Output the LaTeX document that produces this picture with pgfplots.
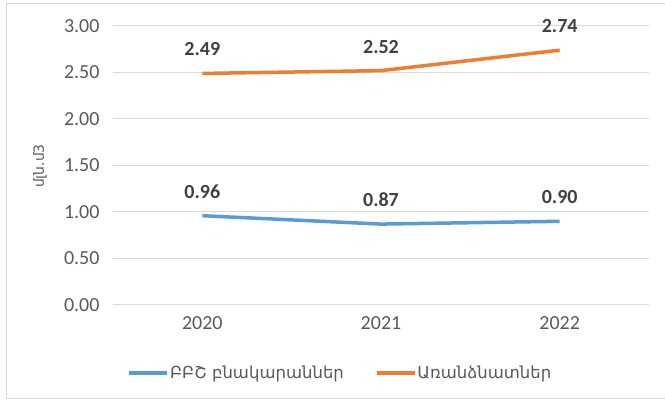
\documentclass[border=0pt]{standalone}
\usepackage{pgfplots}
\pgfplotsset{compat=1.18}
\usepackage{fontspec}
\setmainfont{Carlito}
\newfontfamily\armfont{DejaVu Sans}
\definecolor{cblue}{HTML}{5B9BD5}
\definecolor{corange}{HTML}{ED7D31}
\definecolor{gridc}{HTML}{D9D9D9}
\definecolor{tickc}{HTML}{595959}
\definecolor{labc}{HTML}{404040}
\begin{document}
\begin{tikzpicture}[x=1pt,y=1pt]
\useasboundingbox (0,0) rectangle (665,402);
\draw[gridc, line width=1pt] (6,398) -- (672,398);
\draw[gridc, line width=1pt] (6,398) -- (6,3) -- (672,3);
\node[rotate=90, text=tickc, font=\armfont\fontsize{14}{16}\selectfont] at (40,236) {մլն.մ3};
\begin{axis}[
  at={(113pt,97pt)}, anchor=south west,
  scale only axis, width=536pt, height=279pt,
  xmin=-0.5, xmax=2.5, ymin=0, ymax=3,
  xtick={0,1,2}, xticklabels={2020,2021,2022},
  ytick={0,0.5,1,1.5,2,2.5,3},
  axis line style={draw=none},
  major tick length=0pt,
  ymajorgrids, grid style={gridc, line width=1pt},
  /pgf/number format/.cd, fixed, zerofill, precision=2, assume math mode=true,
  /pgfplots/.cd,
  tick label style={text=tickc, font=\fontsize{20}{22}\selectfont},
  yticklabel style={xshift=-10pt},
  xticklabel style={yshift=-8pt},
  nodes near coords,
  every node near coord/.append style={anchor=center, yshift=24pt, text=labc, font=\bfseries\fontsize{20}{22}\selectfont},
  legend columns=2,
  legend style={draw=none, fill=none, at={(0.4235,-0.2437)}, anchor=center,
    font=\armfont\fontsize{16.5}{18}\selectfont, text=tickc,
    nodes={inner xsep=1pt},
    /tikz/every even column/.append style={column sep=30pt}},
  legend image code/.code={\draw[#1, line width=3.5pt] (0pt,0pt) -- (38pt,0pt);},
]
\addplot[cblue, line width=3.5pt] coordinates {(0,0.96) (1,0.87) (2,0.90)};
\addlegendentry{ԲԲՇ բնակարաններ}
\addplot[corange, line width=3.5pt] coordinates {(0,2.49) (1,2.52) (2,2.74)};
\addlegendentry{Առանձնատներ}
\end{axis}
\end{tikzpicture}
\end{document}
